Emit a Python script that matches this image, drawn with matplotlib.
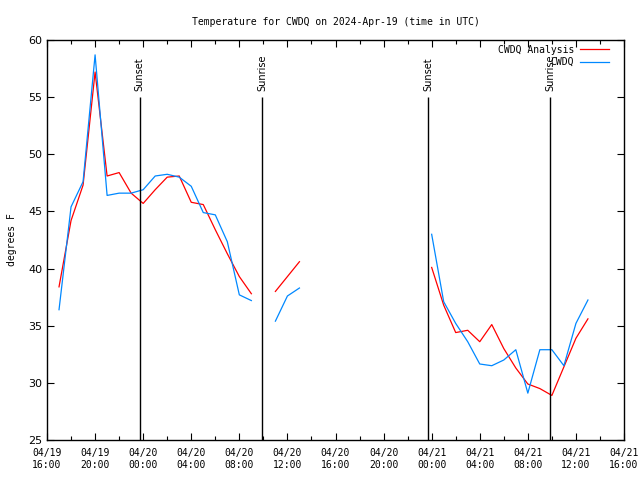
import numpy as np
import pandas as pd
import matplotlib
matplotlib.use('Agg')
import matplotlib.pyplot as plt
import matplotlib.dates as mdates

nan = np.nan
times = pd.date_range('2024-04-19 17:00', '2024-04-21 13:00', freq='h')

# hourly temperatures (deg F), gaps as nan
analysis = [38.4, 44.2, 47.3, 57.2, 48.1, 48.4, 46.6, 45.7, 46.9, 48.0, 48.1, 45.8,
            45.6, 43.4, 41.3, 39.3, 37.8,
            nan,
            38.0, 39.3, 40.6,
            nan, nan, nan, nan, nan, nan, nan, nan, nan, nan,
            40.1, 36.8, 34.4, 34.6, 33.6, 35.1, 33.0, 31.3, 29.9, 29.5, 28.9,
            31.4, 33.9, 35.6]
obs = [36.4, 45.4, 47.6, 58.7, 46.4, 46.6, 46.6, 46.9, 48.1, 48.25, 48.0, 47.2,
       44.9, 44.7, 42.35, 37.7, 37.2,
       nan,
       35.4, 37.6, 38.3,
       nan, nan, nan, nan, nan, nan, nan, nan, nan, nan,
       43.0, 37.1, 35.2, 33.6, 31.65, 31.5, 32.0, 32.9, 29.1, 32.9, 32.9,
       31.5, 35.2, 37.25]

sun_times = pd.to_datetime(['2024-04-19 23:42', '2024-04-20 09:55',
                            '2024-04-20 23:43', '2024-04-21 09:52'])
sun_labels = ['Sunset', 'Sunrise', 'Sunset', 'Sunrise']

mono = 'DejaVu Sans Mono'

fig = plt.figure(figsize=(6.4, 4.8), dpi=100)
ax = fig.add_axes([47/640, 40/480, 577/640, 400/480])

ax.plot(times, analysis, color='#ff0000', lw=0.9, label='CWDQ Analysis')
ax.plot(times, obs, color='#0088ff', lw=0.9, label='CWDQ')

for t, lab in zip(sun_times, sun_labels):
    ax.vlines(t, 25, 55, color='black', lw=1.0)
    ax.text(t, 55.5, lab, rotation=90, ha='center', va='bottom',
            fontsize=7, family='DejaVu Sans')

ax.set_xlim(pd.Timestamp('2024-04-19 16:00'), pd.Timestamp('2024-04-21 16:00'))
ax.set_ylim(25, 60)
ax.set_yticks(np.arange(25, 61, 5))
ax.xaxis.set_major_locator(mdates.HourLocator(byhour=range(0, 24, 4)))
ax.xaxis.set_minor_locator(mdates.HourLocator(byhour=range(0, 24, 2)))
ax.xaxis.set_major_formatter(mdates.DateFormatter('%m/%d\n%H:%M'))
ax.tick_params(which='both', direction='in', top=True, right=True, width=0.8)
ax.tick_params(which='major', length=5)
ax.tick_params(which='minor', length=3)
ax.tick_params(axis='x', labelsize=7, pad=6)
ax.tick_params(axis='y', labelsize=8)
for lab in ax.get_xticklabels():
    lab.set_family(mono)
for s in ax.spines.values():
    s.set_linewidth(1.0)

ax.set_ylabel('degrees F', fontsize=7, family=mono, labelpad=8)
ax.set_title('Temperature for CWDQ on 2024-Apr-19 (time in UTC)',
             fontsize=7, family=mono, pad=11)
ax.legend(loc='upper right', bbox_to_anchor=(0.978, 0.993), frameon=False,
          markerfirst=False, prop={'family': mono, 'size': 7}, handlelength=3.0,
          labelspacing=0.25, borderaxespad=0, borderpad=0.2, handletextpad=0.6)

plt.savefig('out.png', dpi=100)
